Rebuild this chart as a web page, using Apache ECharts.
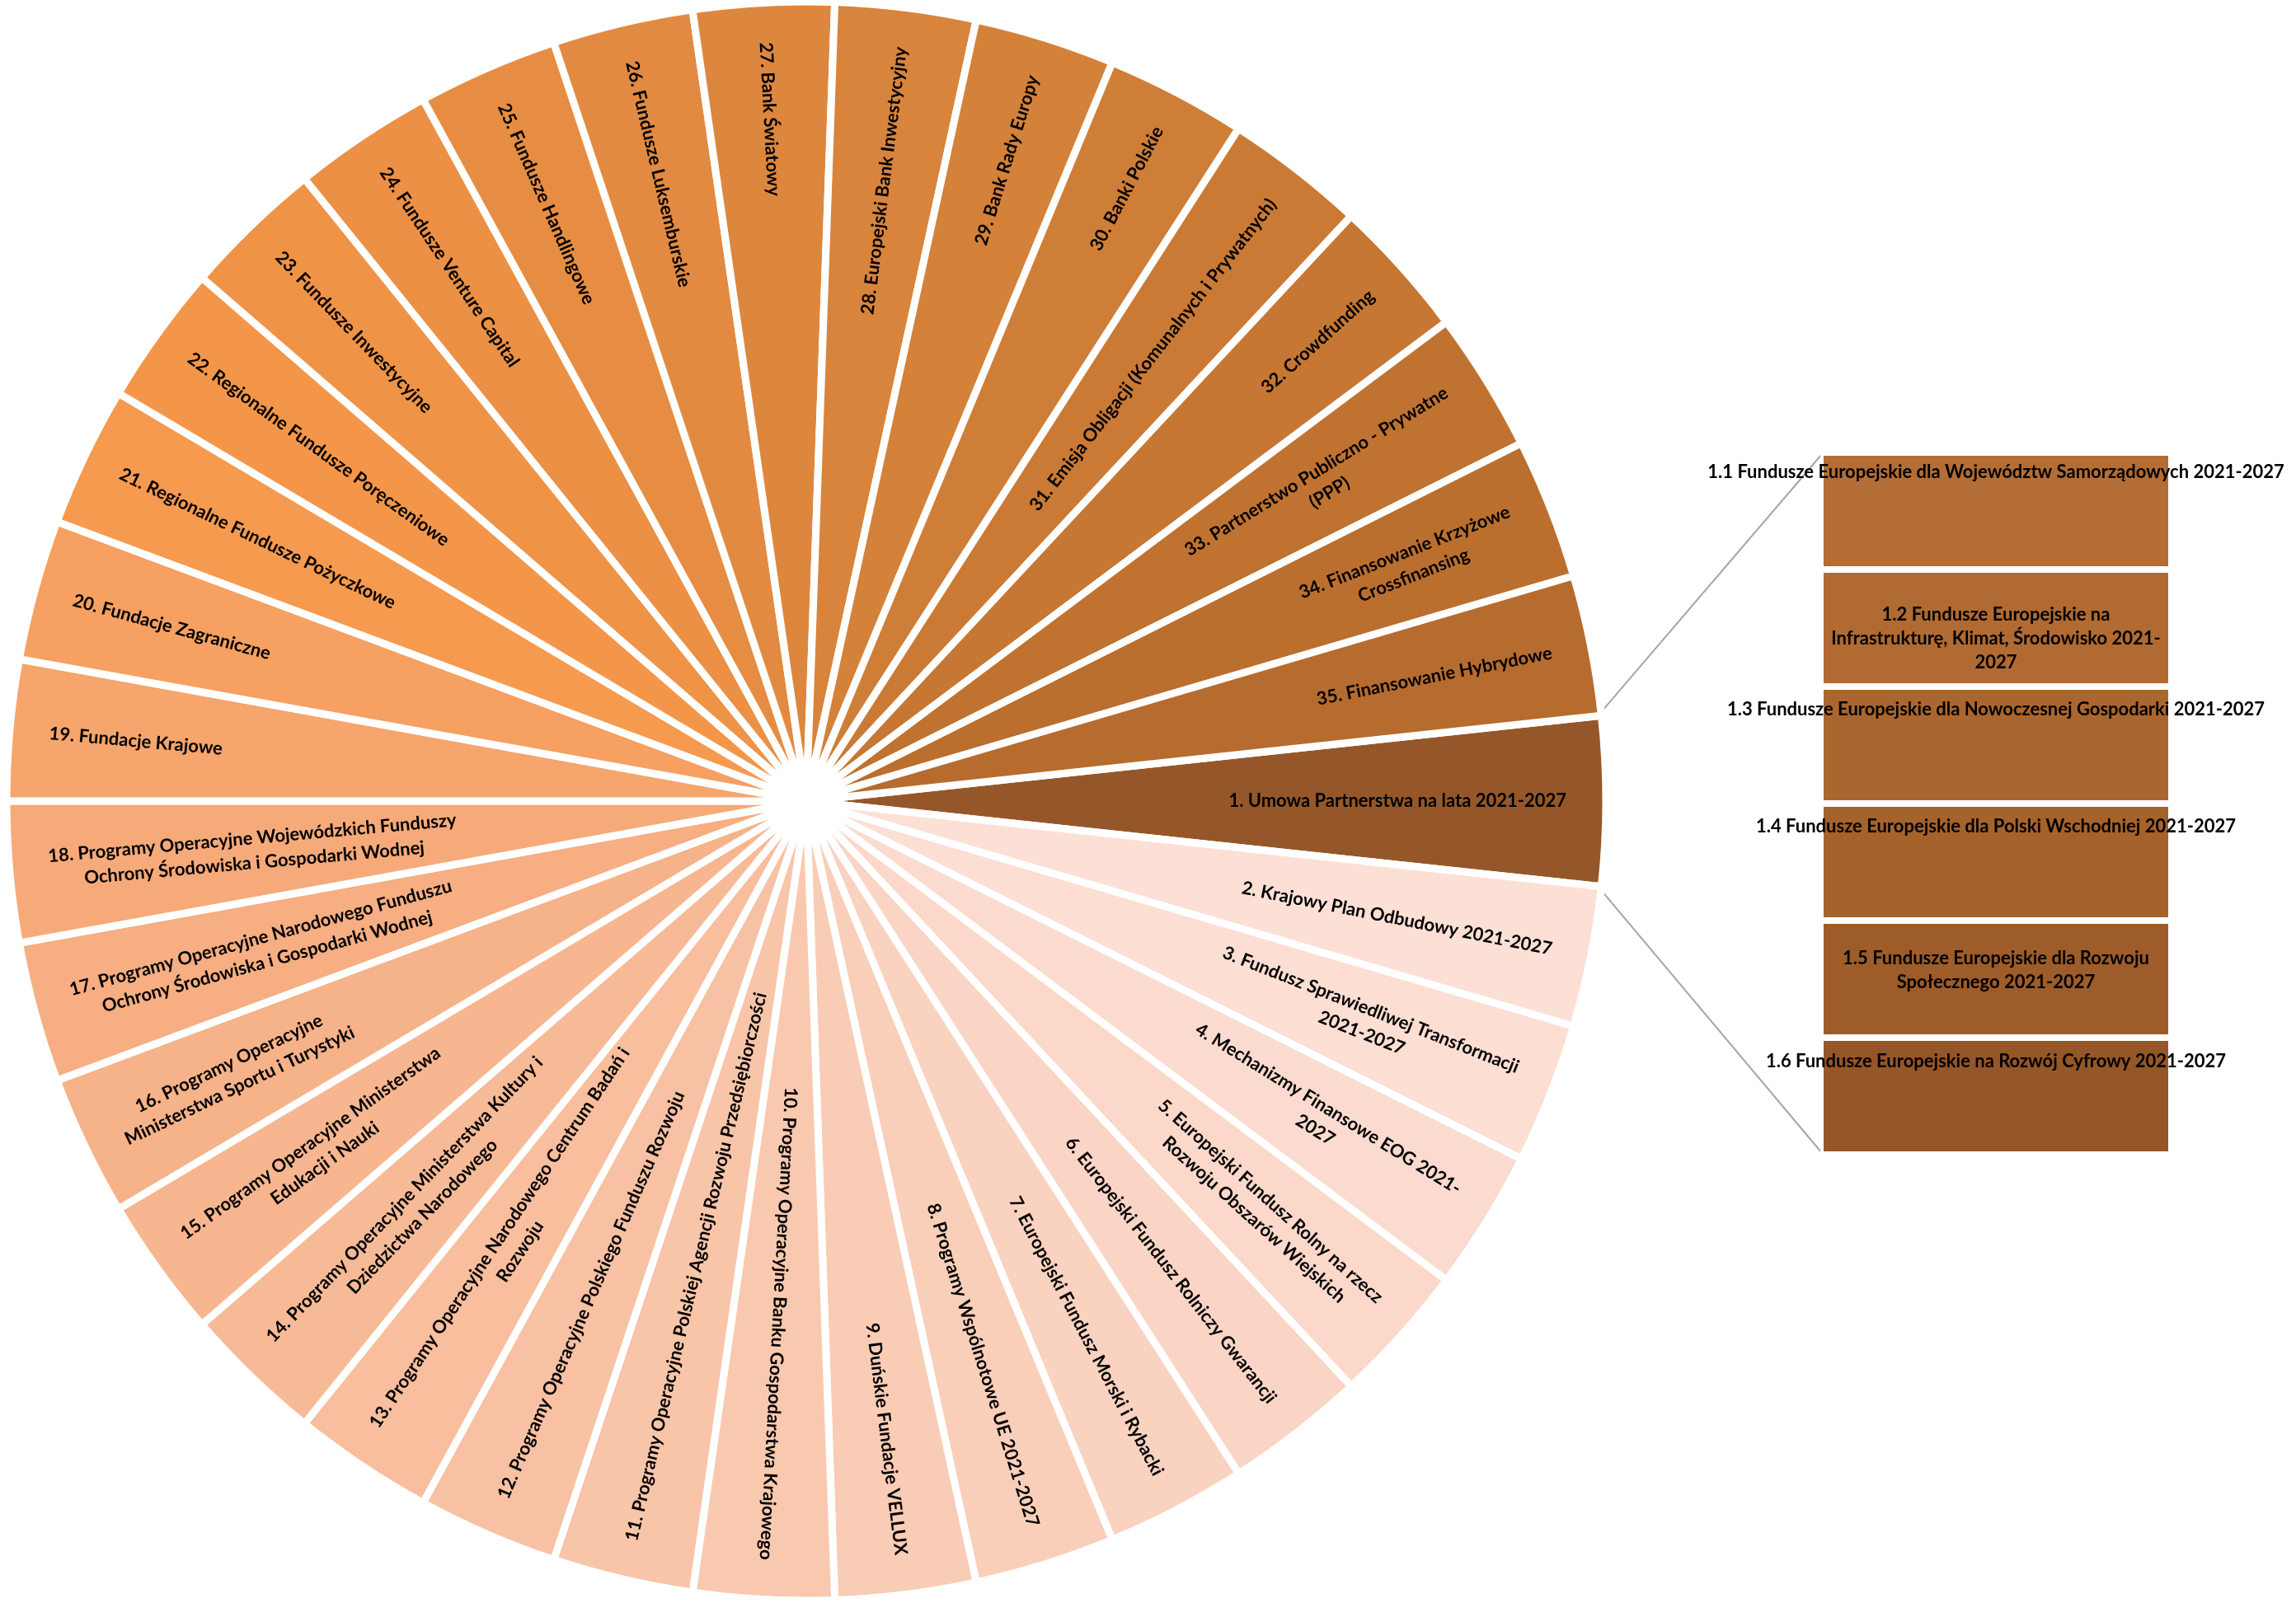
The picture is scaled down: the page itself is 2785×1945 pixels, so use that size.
<!DOCTYPE html>
<html><head><meta charset="utf-8">
<script src="https://cdn.jsdelivr.net/npm/echarts@6/dist/echarts.min.js"></script>
<style>html,body{margin:0;padding:0;background:#fff}#c{width:2785px;height:1945px}</style>
</head><body><div id="c"></div>
<script>
// ---- data ----
const pieNames = [
  "1. Umowa Partnerstwa na lata 2021-2027",
  "2. Krajowy Plan Odbudowy 2021-2027",
  "3. Fundusz Sprawiedliwej Transformacji\n2021-2027",
  "4. Mechanizmy Finansowe EOG 2021-\n2027",
  "5. Europejski Fundusz Rolny na rzecz\nRozwoju Obszarów Wiejskich",
  "6. Europejski Fundusz Rolniczy Gwarancji",
  "7. Europejski Fundusz Morski i Rybacki",
  "8. Programy Wspólnotowe UE 2021-2027",
  "9. Duńskie Fundacje VELLUX",
  "10. Programy Operacyjne Banku Gospodarstwa Krajowego",
  "11. Programy Operacyjne Polskiej Agencji Rozwoju Przedsiębiorczości",
  "12. Programy Operacyjne Polskiego Funduszu Rozwoju",
  "13. Programy Operacyjne Narodowego Centrum Badań i\nRozwoju",
  "14. Programy Operacyjne Ministerstwa Kultury i\nDziedzictwa Narodowego",
  "15. Programy Operacyjne Ministerstwa\nEdukacji i Nauki",
  "16. Programy Operacyjne\nMinisterstwa Sportu i Turystyki",
  "17. Programy Operacyjne Narodowego Funduszu\nOchrony Środowiska i Gospodarki Wodnej",
  "18. Programy Operacyjne Wojewódzkich Funduszy\nOchrony Środowiska i Gospodarki Wodnej",
  "19. Fundacje Krajowe",
  "20. Fundacje Zagraniczne",
  "21. Regionalne Fundusze Pożyczkowe",
  "22. Regionalne Fundusze Poręczeniowe",
  "23. Fundusze Inwestycyjne",
  "24. Fundusze Venture Capital",
  "25. Fundusze Handlingowe",
  "26. Fundusze Luksemburskie",
  "27. Bank Światowy",
  "28. Europejski Bank Inwestycyjny",
  "29. Bank Rady Europy",
  "30. Banki Polskie",
  "31. Emisja Obligacji (Komunalnych i Prywatnych)",
  "32. Crowdfunding",
  "33. Partnerstwo Publiczno - Prywatne\n(PPP)",
  "34. Finansowanie Krzyżowe\nCrossfinansing",
  "35. Finansowanie Hybrydowe"
];
const pieValues = [1.2, 1,1,1,1,1,1,1,1,1,1,1,1,1,1,1,1,1,1,1,1,1,1,1,1,1,1,1,1,1,1,1,1,1,1];
const subNames = [
  "1.1 Fundusze Europejskie dla Województw Samorządowych 2021-2027",
  "1.2 Fundusze Europejskie na\nInfrastrukturę, Klimat, Środowisko 2021-\n2027",
  "1.3 Fundusze Europejskie dla Nowoczesnej Gospodarki 2021-2027",
  "1.4 Fundusze Europejskie dla Polski Wschodniej 2021-2027",
  "1.5 Fundusze Europejskie dla Rozwoju\nSpołecznego 2021-2027",
  "1.6 Fundusze Europejskie na Rozwój Cyfrowy 2021-2027"
];
const subValues = [0.2, 0.2, 0.2, 0.2, 0.2, 0.2];

// ---- styles ----
const pieColors = [
  "#95572A","#FCE0D6","#FCDED3","#FBDBCF","#FBD8CA","#FAD5C5","#FAD2C0","#F9CFBA","#F9CCB5",
  "#F9C9AF","#F8C5A9","#F8C1A3","#F8BE9D","#F7BA97","#F7B690","#F6B289","#F6AE82","#F6AA7A",
  "#F6A56D","#F6A062","#F59A4F","#F4964A","#EF9347","#EB9045","#E68D43","#E28A41","#DD873E",
  "#D8843C","#D4813A","#CF7E38","#CA7A35","#C57733","#C07331","#BB6F2F","#B66C2E"
];
const subColors = ["#B36D35","#B06A32","#AA662E","#A5622B","#9D5C29","#955628"];
const subLabelDy = [-47, 13, -43, -43, -11, -42];

const CX = 978, CY = 972, R = 970, BORDER = 9, LABEL_END = 922;
const FONT = 'Lato';

const total = pieValues.reduce((a, b) => a + b, 0);
const startAngle = 360 * pieValues[0] / 2 / total;
const cum = [];
let acc = 0;
pieValues.forEach(v => { cum.push(acc); acc += v; });
function midAngle(i) { // degrees clockwise from +x (screen)
  return -startAngle + (cum[i] + pieValues[i] / 2) / total * 360;
}

const grid = { left: 2208, top: 549, width: 426, height: 852 };

const chart = echarts.init(document.getElementById('c'), null, { renderer: 'canvas' });

const barSeries = subNames.map((n, i) => ({
  type: 'bar', stack: 'sub', xAxisIndex: 0, yAxisIndex: 0,
  barWidth: '100%', name: n,
  data: [subValues[i]],
  itemStyle: { color: subColors[i], borderColor: '#fff', borderWidth: 4 },
  label: {
    show: true, position: 'inside', offset: [0, subLabelDy[i]],
    formatter: () => n, color: '#000', fontFamily: FONT, fontWeight: 'bold',
    fontSize: 22, lineHeight: 29, align: 'center'
  },
  silent: true
}));

const sRad = startAngle * Math.PI / 180;
const edgeR = R - BORDER / 2;
const p1 = [CX + edgeR * Math.cos(sRad), CY - edgeR * Math.sin(sRad)];
const p2 = [CX + edgeR * Math.cos(sRad), CY + edgeR * Math.sin(sRad)];
const barL = grid.left + 2, barT = grid.top + 2, barB = grid.top + grid.height - 2;

chart.setOption({
  animation: false,
  backgroundColor: '#fff',
  grid: grid,
  xAxis: { type: 'category', data: ['1'], show: false },
  yAxis: { type: 'value', min: 0, max: subValues.reduce((a, b) => a + b, 0), inverse: true, show: false },
  graphic: [
    { type: 'line', shape: { x1: p1[0], y1: p1[1], x2: barL, y2: barT }, style: { stroke: '#A6A6A6', lineWidth: 2 }, z: 1 },
    { type: 'line', shape: { x1: p2[0], y1: p2[1], x2: barL, y2: barB }, style: { stroke: '#A6A6A6', lineWidth: 2 }, z: 1 }
  ],
  series: [
    {
      type: 'pie',
      center: [CX, CY],
      radius: [0, R],
      startAngle: startAngle,
      clockwise: true,
      avoidLabelOverlap: false,
      silent: true,
      data: pieNames.map((n, i) => ({ name: n, value: pieValues[i], itemStyle: { color: pieColors[i] } })),
      itemStyle: { borderColor: '#fff', borderWidth: BORDER },
      label: {
        show: true, position: 'inside', formatter: '{b}', rotate: 0,
        color: '#000', fontFamily: FONT, fontWeight: 'bold', fontSize: 22, lineHeight: 30, align: 'center'
      },
      labelLine: { show: false },
      labelLayout: function (p) {
        const i = p.dataIndex;
        let a = midAngle(i);
        a = ((a % 360) + 360) % 360;
        const w = p.labelRect.width;
        const r = LABEL_END - w / 2;
        const rad = a * Math.PI / 180;
        const rot = (a < 95 || a > 270) ? -a : 180 - a;
        return {
          x: CX + r * Math.cos(rad),
          y: CY + r * Math.sin(rad),
          rotate: rot,
          align: 'center',
          verticalAlign: 'middle'
        };
      }
    }
  ].concat(barSeries)
});
</script>
</body></html>
